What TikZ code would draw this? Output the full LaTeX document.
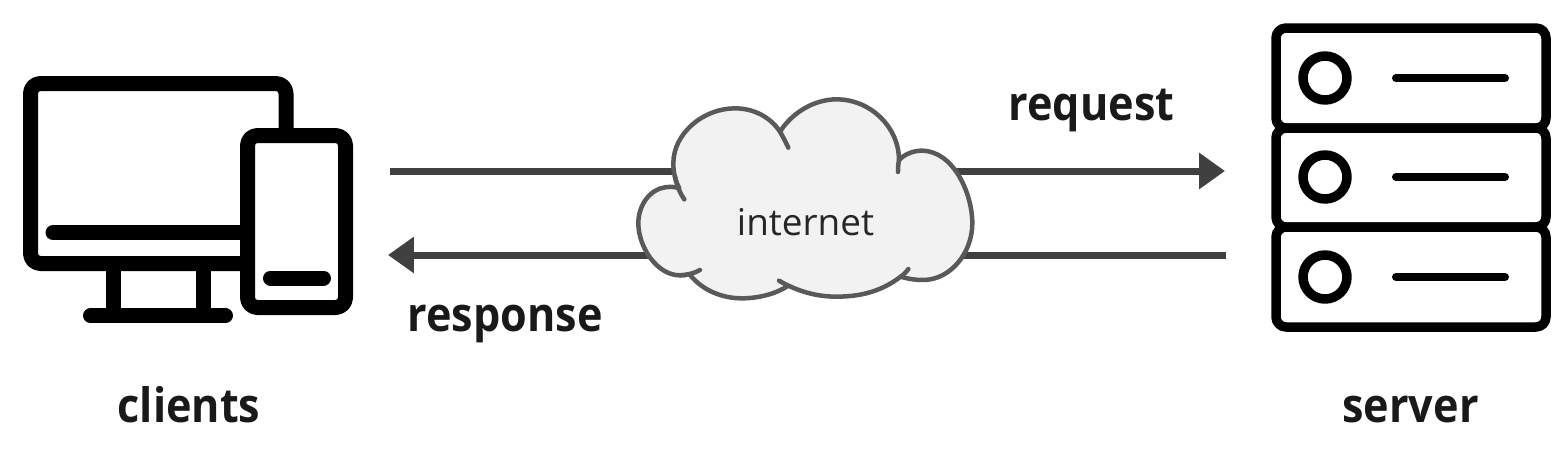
\documentclass[tikz,border=0pt]{standalone}
\usepackage{fontspec}
\setmainfont{Open Sans}
\newfontfamily\capfont[FakeStretch = .91]{Open Sans}
\usetikzlibrary{arrows.meta}

\definecolor{flowgray}{HTML}{404040}
\definecolor{cloudline}{HTML}{595959}
\definecolor{cloudfill}{HTML}{F2F2F2}

\tikzset{
  icon/.style = {line width = 15*.02cm, black, rounded corners = .2cm},
  rack/.style = {line width = 9.5*.02cm, black, rounded corners = .2cm},
  flow/.style = {line width = 7*.02cm, flowgray, -{Triangle[length = .52cm, width = .7cm]}},
  cloudedge/.style = {line width = 4.5*.02cm, cloudline, line cap = round},
  caption/.style = {font = \capfont\bfseries\fontsize{27}{30}\selectfont, anchor = base, text = black!90}
}

\begin{document}
\begin{tikzpicture}[x = .02cm, y = -.02cm, line join = round]
  \useasboundingbox (0, 0) rectangle (1566, 460);

  \draw[icon] (286, 140) -- (286, 83.5) -- (30.5, 83.5) -- (30.5, 263.5) -- (250, 263.5);
  \draw[icon, line cap = round] (53, 232.6) -- (250, 232.6);
  \draw[icon] (113, 265) -- (113, 315.7);
  \draw[icon] (203, 265) -- (203, 315.7);
  \draw[icon, line cap = round] (90.5, 315.7) -- (225.5, 315.7);
  \draw[icon, fill = white] (247.5, 135.5) rectangle (345.5, 307.5);
  \draw[icon, line cap = round] (270.5, 278) -- (323.5, 278);

  \foreach \top/\bot/\mid in {28/128/78, 128/227/177, 227/327/277} {
    \draw[rack] (1276, \top) rectangle (1546, \bot);
    \draw[line width = 9.5*.02cm] (1325, \mid) circle[radius = 22];
    \draw[line width = 8*.02cm, line cap = round] (1396, \mid) -- (1505, \mid);
  }

  \coordinate (reqstart) at (390, 171);
  \coordinate (reqend) at (1225, 171);
  \coordinate (resstart) at (1226, 255);
  \coordinate (resend) at (388, 255);
  \draw[flow] (reqstart) -- (reqend);
  \draw[flow] (resstart) -- (resend);

  \begin{scope}[shift = {(620, 80)}, x = .02cm/3, y = -.02cm/3]
    \draw[cloudedge, fill = cloudfill]
    (480, 155) .. controls (450, 110) and (400, 85) .. (345, 85)
    .. controls (250, 85) and (160, 160) .. (160, 250)
    .. controls (160, 280) and (167, 305) .. (178, 325)
    .. controls (165, 320) and (150, 320) .. (135, 322)
    .. controls (90, 328) and (55, 375) .. (55, 430)
    .. controls (55, 500) and (110, 586) .. (180, 586)
    .. controls (190, 586) and (200, 585) .. (208, 582)
    .. controls (245, 630) and (305, 655) .. (365, 655)
    .. controls (420, 655) and (470, 640) .. (505, 617)
    .. controls (555, 640) and (600, 650) .. (650, 650)
    .. controls (730, 650) and (790, 630) .. (842, 590)
    .. controls (865, 597) and (885, 600) .. (910, 600)
    .. controls (990, 600) and (1057, 520) .. (1057, 430)
    .. controls (1057, 340) and (1000, 212) .. (905, 212)
    .. controls (880, 212) and (855, 222) .. (837, 240)
    .. controls (837, 140) and (750, 58) .. (650, 58)
    .. controls (580, 58) and (515, 100) .. (480, 155) -- cycle;
    \draw[cloudedge] (480, 155) .. controls (490, 172) and (498, 188) .. (505, 203);
    \draw[cloudedge] (165, 290) .. controls (170, 315) and (180, 340) .. (193, 358);
    \draw[cloudedge] (180, 586) .. controls (200, 586) and (222, 580) .. (240, 570);
    \draw[cloudedge] (505, 617) .. controls (495, 612) and (485, 607) .. (477, 602);
    \draw[cloudedge] (842, 590) .. controls (850, 585) and (858, 577) .. (865, 567);
    \draw[cloudedge] (837, 240) .. controls (835, 250) and (834, 262) .. (834, 276);
  \end{scope}

  \node[font = \fontsize{21}{24}\selectfont, anchor = base, text = black!85] (internet) at (805.5, 235) {internet};
  \node[caption] (request) at (1091.5, 120) {request};
  \node[caption] (response) at (505, 331) {response};
  \node[caption] (clients) at (189, 422) {clients};
  \node[caption] (server) at (1410.5, 422) {server};
\end{tikzpicture}
\end{document}
